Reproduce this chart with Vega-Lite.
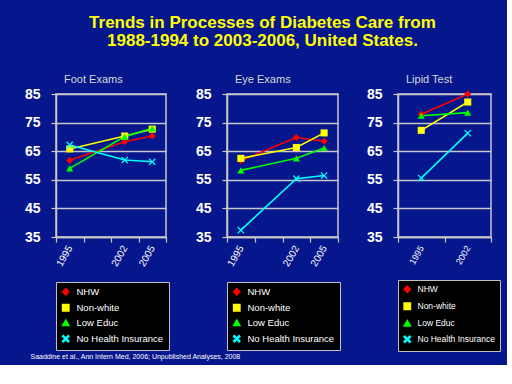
{
  "$schema": "https://vega.github.io/schema/vega-lite/v6.json",
  "background": "#06168c",
  "padding": {"left": 23, "top": 14, "right": 5, "bottom": 5},
  "title": {
    "text": ["Trends in Processes of Diabetes Care from", "1988-1994 to 2003-2006, United States."],
    "color": "#ffff00", "font": "Liberation Sans", "fontSize": 17, "fontWeight": "bold",
    "anchor": "middle", "offset": 23, "lineHeight": 18, "dx": 0
  },
  "datasets": {
    "notes": [{"note": "Saaddine et al., Ann Intern Med, 2006; Unpublished Analyses, 2008"}]
  },
  "data": {
    "values": [
      {"panel": "Foot Exams", "year": "1995", "group": "NHW", "value": 61.8},
      {"panel": "Foot Exams", "year": "2002", "group": "NHW", "value": 68.3},
      {"panel": "Foot Exams", "year": "2005", "group": "NHW", "value": 70.3},
      {"panel": "Foot Exams", "year": "1995", "group": "Non-white", "value": 65.8},
      {"panel": "Foot Exams", "year": "2002", "group": "Non-white", "value": 70.3},
      {"panel": "Foot Exams", "year": "2005", "group": "Non-white", "value": 72.7},
      {"panel": "Foot Exams", "year": "1995", "group": "Low Educ", "value": 59.0},
      {"panel": "Foot Exams", "year": "2002", "group": "Low Educ", "value": 70.1},
      {"panel": "Foot Exams", "year": "2005", "group": "Low Educ", "value": 73.0},
      {"panel": "Foot Exams", "year": "1995", "group": "No Health Insurance", "value": 67.2},
      {"panel": "Foot Exams", "year": "2002", "group": "No Health Insurance", "value": 61.9},
      {"panel": "Foot Exams", "year": "2005", "group": "No Health Insurance", "value": 61.3},
      {"panel": "Eye Exams", "year": "1995", "group": "NHW", "value": 61.7},
      {"panel": "Eye Exams", "year": "2002", "group": "NHW", "value": 69.8},
      {"panel": "Eye Exams", "year": "2005", "group": "NHW", "value": 68.5},
      {"panel": "Eye Exams", "year": "1995", "group": "Non-white", "value": 62.5},
      {"panel": "Eye Exams", "year": "2002", "group": "Non-white", "value": 66.3},
      {"panel": "Eye Exams", "year": "2005", "group": "Non-white", "value": 71.4},
      {"panel": "Eye Exams", "year": "1995", "group": "Low Educ", "value": 58.3},
      {"panel": "Eye Exams", "year": "2002", "group": "Low Educ", "value": 62.5},
      {"panel": "Eye Exams", "year": "2005", "group": "Low Educ", "value": 66.1},
      {"panel": "Eye Exams", "year": "1995", "group": "No Health Insurance", "value": 37.4},
      {"panel": "Eye Exams", "year": "2002", "group": "No Health Insurance", "value": 55.4},
      {"panel": "Eye Exams", "year": "2005", "group": "No Health Insurance", "value": 56.5},
      {"panel": "Lipid Test", "year": "1995", "group": "NHW", "value": 77.9},
      {"panel": "Lipid Test", "year": "2002", "group": "NHW", "value": 85.0},
      {"panel": "Lipid Test", "year": "1995", "group": "Non-white", "value": 72.3},
      {"panel": "Lipid Test", "year": "2002", "group": "Non-white", "value": 82.2},
      {"panel": "Lipid Test", "year": "1995", "group": "Low Educ", "value": 77.4},
      {"panel": "Lipid Test", "year": "2002", "group": "Low Educ", "value": 78.5},
      {"panel": "Lipid Test", "year": "1995", "group": "No Health Insurance", "value": 55.6},
      {"panel": "Lipid Test", "year": "2002", "group": "No Health Insurance", "value": 71.3}
    ]
  },
  "spacing": -1,
  "vconcat": [
    {
      "spacing": 23,
      "resolve": {"scale": {"color": "independent", "shape": "independent"}, "legend": {"color": "independent", "shape": "independent"}},
      "hconcat": [
        {
          "width": 110, "height": 143,
          "title": {"text": "Foot Exams", "frame": "group"},
          "transform": [{"filter": "datum.panel === 'Foot Exams'"}],
          "encoding": {
            "x": {"field": "year", "type": "ordinal",
              "scale": {"type": "band", "domain": ["1995", "1999", "2002", "2005"], "paddingInner": 0, "paddingOuter": 0},
              "axis": {"title": null, "labelAngle": -60, "labelExpr": "datum.value === '1999' ? '' : datum.value", "tickBand": "extent", "grid": false, "labelAlign": "right", "labelBaseline": "middle"}},
            "y": {"field": "value", "type": "quantitative", "scale": {"domain": [35, 85], "nice": false, "zero": false},
              "axis": {"title": null, "values": [35, 45, 55, 65, 75, 85]}},
            "color": {"field": "group", "type": "nominal",
              "scale": {"domain": ["NHW", "Non-white", "Low Educ", "No Health Insurance"], "range": ["#ff0000", "#ffff00", "#00ff00", "#00ffff"]},
              "legend": {"title": null, "orient": "bottom", "direction": "vertical", "labelFontSize": 9.5}}
          },
          "layer": [
            {"mark": {"type": "line", "strokeWidth": 1.6}, "encoding": {}},
            {"mark": {"type": "point", "filled": true, "size": 50, "opacity": 1},
              "encoding": {"shape": {"field": "group", "type": "nominal",
                "scale": {"domain": ["NHW", "Non-white", "Low Educ", "No Health Insurance"], "range": ["diamond", "square", "triangle-up", "M-1,-0.75L-0.75,-1L0,-0.25L0.75,-1L1,-0.75L0.25,0L1,0.75L0.75,1L0,0.25L-0.75,1L-1,0.75L-0.25,0Z"]},
                "legend": {"title": null, "orient": "bottom", "direction": "vertical", "labelFontSize": 9.5}}}}
          ]
        },
        {
          "width": 111, "height": 143,
          "title": {"text": "Eye Exams", "frame": "group"},
          "transform": [{"filter": "datum.panel === 'Eye Exams'"}],
          "encoding": {
            "x": {"field": "year", "type": "ordinal",
              "scale": {"type": "band", "domain": ["1995", "1999", "2002", "2005"], "paddingInner": 0, "paddingOuter": 0},
              "axis": {"title": null, "labelAngle": -60, "labelExpr": "datum.value === '1999' ? '' : datum.value", "tickBand": "extent", "grid": false, "labelAlign": "right", "labelBaseline": "middle"}},
            "y": {"field": "value", "type": "quantitative", "scale": {"domain": [35, 85], "nice": false, "zero": false},
              "axis": {"title": null, "values": [35, 45, 55, 65, 75, 85]}},
            "color": {"field": "group", "type": "nominal",
              "scale": {"domain": ["NHW", "Non-white", "Low Educ", "No Health Insurance"], "range": ["#ff0000", "#ffff00", "#00ff00", "#00ffff"]},
              "legend": {"title": null, "orient": "bottom", "direction": "vertical", "labelFontSize": 9.5}}
          },
          "layer": [
            {"mark": {"type": "line", "strokeWidth": 1.6}, "encoding": {}},
            {"mark": {"type": "point", "filled": true, "size": 50, "opacity": 1},
              "encoding": {"shape": {"field": "group", "type": "nominal",
                "scale": {"domain": ["NHW", "Non-white", "Low Educ", "No Health Insurance"], "range": ["diamond", "square", "triangle-up", "M-1,-0.75L-0.75,-1L0,-0.25L0.75,-1L1,-0.75L0.25,0L1,0.75L0.75,1L0,0.25L-0.75,1L-1,0.75L-0.25,0Z"]},
                "legend": {"title": null, "orient": "bottom", "direction": "vertical", "labelFontSize": 9.5}}}}
          ]
        },
        {
          "width": 93, "height": 143,
          "title": {"text": "Lipid Test", "frame": "group"},
          "transform": [{"filter": "datum.panel === 'Lipid Test'"}],
          "encoding": {
            "x": {"field": "year", "type": "ordinal",
              "scale": {"type": "band", "domain": ["1995", "2002"], "paddingInner": 0, "paddingOuter": 0},
              "axis": {"title": null, "labelAngle": -60, "tickBand": "extent", "grid": false, "labelAlign": "right", "labelBaseline": "middle", "labelFontSize": 9}},
            "y": {"field": "value", "type": "quantitative", "scale": {"domain": [35, 85], "nice": false, "zero": false},
              "axis": {"title": null, "values": [35, 45, 55, 65, 75, 85]}},
            "color": {"field": "group", "type": "nominal",
              "scale": {"domain": ["NHW", "Non-white", "Low Educ", "No Health Insurance"], "range": ["#ff0000", "#ffff00", "#00ff00", "#00ffff"]},
              "legend": {"title": null, "orient": "bottom", "direction": "vertical", "labelFontSize": 8.5, "rowPadding": 4}}
          },
          "layer": [
            {"mark": {"type": "line", "strokeWidth": 1.6}, "encoding": {}},
            {"mark": {"type": "point", "filled": true, "size": 50, "opacity": 1},
              "encoding": {"shape": {"field": "group", "type": "nominal",
                "scale": {"domain": ["NHW", "Non-white", "Low Educ", "No Health Insurance"], "range": ["diamond", "square", "triangle-up", "M-1,-0.75L-0.75,-1L0,-0.25L0.75,-1L1,-0.75L0.25,0L1,0.75L0.75,1L0,0.25L-0.75,1L-1,0.75L-0.25,0Z"]},
                "legend": {"title": null, "orient": "bottom", "direction": "vertical", "labelFontSize": 8.5, "rowPadding": 4}}}}
          ]
        }
      ]
    },
    {
      "width": 1, "height": 1,
      "data": {"name": "notes"},
      "mark": {"type": "text", "align": "left", "baseline": "middle", "fill": "#ffffff", "font": "Liberation Sans", "fontSize": 7, "dx": -26},
      "encoding": {"text": {"field": "note"}}
    }
  ],
  "config": {
    "view": {"stroke": "#c8c8c8", "strokeWidth": 1.5},
    "title": {"color": "#d8d8d8", "font": "Liberation Sans", "fontSize": 11, "fontWeight": "normal", "anchor": "start", "dx": 8, "offset": 2},
    "axis": {
      "domainColor": "#c8c8c8", "domainWidth": 1.5, "tickColor": "#c8c8c8", "tickWidth": 1.2, "tickSize": 5,
      "gridColor": "#c8c8c8", "gridWidth": 1.5, "gridOpacity": 1,
      "labelColor": "#ffffff", "labelFont": "Liberation Sans"
    },
    "axisY": {"labelFontSize": 14, "labelFontWeight": "bold", "labelPadding": 11},
    "axisX": {"labelFontSize": 10, "labelPadding": 4},
    "legend": {
      "fillColor": "#000000", "strokeColor": "#c0c0c0",
      "padding": 5, "offset": 14, "labelColor": "#ffffff", "labelFont": "Liberation Sans",
      "symbolSize": 40, "labelOffset": 6, "rowPadding": 3, "labelLimit": 200, "symbolStrokeWidth": 1.5
    }
  }
}
